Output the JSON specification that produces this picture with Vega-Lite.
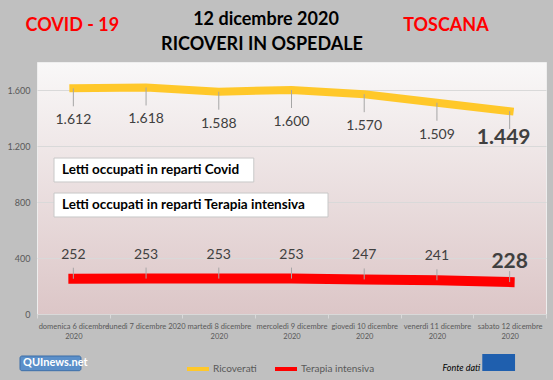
{
  "$schema": "https://vega.github.io/schema/vega-lite/v6.json",
  "width": 509,
  "height": 252,
  "autosize": {"type": "none"},
  "padding": {"left": 37, "top": 62, "right": 7, "bottom": 66},
  "background": "#c0c0c0",
  "view": {
    "fill": {"gradient": "linear", "x1": 0, "y1": 0, "x2": 0, "y2": 1, "stops": [{"offset": 0, "color": "#f9f8f8"}, {"offset": 1, "color": "#dcc6c7"}]},
    "stroke": "#eeeeee"
  },
  "config": {
    "font": "Lato",
    "locale": {"number": {"decimal": ",", "thousands": ".", "grouping": [3], "currency": ["€", ""]}},
    "axisY": {
      "tickCount": 9, "domain": false, "ticks": false, "labelPadding": 7, "labelOverlap": false,
      "labelFontSize": 9, "labelColor": "#595959", "gridColor": "#d9d9d9", "gridWidth": 1
    }
  },
  "datasets": {
    "ricoveri": [
      {"giorno": "domenica 6 dicembre 2020", "serie": "Ricoverati", "valore": 1612},
      {"giorno": "lunedì 7 dicembre 2020", "serie": "Ricoverati", "valore": 1618},
      {"giorno": "martedì 8 dicembre 2020", "serie": "Ricoverati", "valore": 1588},
      {"giorno": "mercoledì 9 dicembre 2020", "serie": "Ricoverati", "valore": 1600},
      {"giorno": "giovedì 10 dicembre 2020", "serie": "Ricoverati", "valore": 1570},
      {"giorno": "venerdì 11 dicembre 2020", "serie": "Ricoverati", "valore": 1509},
      {"giorno": "sabato 12 dicembre 2020", "serie": "Ricoverati", "valore": 1449},
      {"giorno": "domenica 6 dicembre 2020", "serie": "Terapia intensiva", "valore": 252},
      {"giorno": "lunedì 7 dicembre 2020", "serie": "Terapia intensiva", "valore": 253},
      {"giorno": "martedì 8 dicembre 2020", "serie": "Terapia intensiva", "valore": 253},
      {"giorno": "mercoledì 9 dicembre 2020", "serie": "Terapia intensiva", "valore": 253},
      {"giorno": "giovedì 10 dicembre 2020", "serie": "Terapia intensiva", "valore": 247},
      {"giorno": "venerdì 11 dicembre 2020", "serie": "Terapia intensiva", "valore": 241},
      {"giorno": "sabato 12 dicembre 2020", "serie": "Terapia intensiva", "valore": 228}
    ],
    "uno": [{"n": 1}]
  },
  "layer": [
    {
      "data": {"name": "ricoveri"},
      "encoding": {
        "y": {
          "field": "valore", "type": "quantitative",
          "scale": {"domain": [0, 1800], "nice": false},
          "axis": {
            "title": null, "values": [0, 200, 400, 600, 800, 1000, 1200, 1400, 1600, 1800],
            "format": ",d", "domain": false, "ticks": false, "labelPadding": 7, "labelOverlap": false,
            "labelFontSize": 9, "labelColor": "#595959", "gridColor": "#d9d9d9", "gridWidth": 1
          }
        },
        "x": {
          "field": "giorno", "type": "nominal",
          "scale": {"type": "band", "paddingInner": 0, "paddingOuter": 0,
            "domain": ["domenica 6 dicembre 2020", "lunedì 7 dicembre 2020", "martedì 8 dicembre 2020", "mercoledì 9 dicembre 2020", "giovedì 10 dicembre 2020", "venerdì 11 dicembre 2020", "sabato 12 dicembre 2020"]},
          "bandPosition": 0.5,
          "axis": {
            "title": null, "labelAngle": 0, "labelFontSize": 7.5, "labelColor": "#595959",
            "tickBand": "extent", "tickColor": "#d9d9d9", "tickSize": 4, "domainColor": "#d9d9d9",
            "labelPadding": 4, "labelLineHeight": 10,
            "labelExpr": "isString(datum.value) && length(datum.value) > 22 ? [replace(datum.value, ' 2020', ''), '2020'] : datum.value"
          }
        },
        "color": {
          "field": "serie", "type": "nominal",
          "scale": {"domain": ["Ricoverati", "Terapia intensiva"], "range": ["#ffc82a", "#ff0000"]},
          "legend": {
            "title": null, "orient": "none", "direction": "horizontal",
            "legendX": 148, "legendY": 294,
            "symbolType": "stroke", "symbolStrokeWidth": 4, "symbolSize": 484,
            "labelFontSize": 10, "labelColor": "#595959", "columnPadding": 10, "labelOffset": 2
          }
        }
      },
      "layer": [
        {
          "transform": [{"filter": "datum.serie == 'Ricoverati'"}],
          "mark": {"type": "line", "strokeWidth": 8, "strokeCap": "square"}
        },
        {
          "transform": [{"filter": "datum.serie == 'Terapia intensiva'"}],
          "mark": {"type": "line", "strokeWidth": 10, "strokeCap": "square"}
        },
        {
          "transform": [{"filter": "datum.serie == 'Ricoverati'"}],
          "mark": {"type": "rule", "strokeWidth": 1, "y2Offset": 18},
          "encoding": {"y2": {"field": "valore"}, "color": {"value": "#a6a6a6"}}
        },
        {
          "transform": [{"filter": "datum.serie == 'Terapia intensiva'"}],
          "mark": {"type": "rule", "strokeWidth": 1, "y2Offset": -11},
          "encoding": {"y2": {"field": "valore"}, "color": {"value": "#a6a6a6"}}
        },
        {
          "transform": [{"filter": "datum.serie == 'Ricoverati' && datum.giorno != 'sabato 12 dicembre 2020'"}],
          "mark": {"type": "text", "dy": 32, "fontSize": 14, "baseline": "middle"},
          "encoding": {"text": {"field": "valore", "type": "quantitative", "format": ",d"}, "color": {"value": "#404040"}}
        },
        {
          "transform": [{"filter": "datum.serie == 'Ricoverati' && datum.giorno == 'sabato 12 dicembre 2020'"}],
          "mark": {"type": "text", "dy": 27, "dx": -6, "fontSize": 21, "fontWeight": "bold", "baseline": "middle"},
          "encoding": {"text": {"field": "valore", "type": "quantitative", "format": ",d"}, "color": {"value": "#404040"}}
        },
        {
          "transform": [{"filter": "datum.serie == 'Terapia intensiva' && datum.giorno != 'sabato 12 dicembre 2020'"}],
          "mark": {"type": "text", "dy": -24, "fontSize": 14, "baseline": "middle"},
          "encoding": {"text": {"field": "valore", "type": "quantitative", "format": ",d"}, "color": {"value": "#404040"}}
        },
        {
          "transform": [{"filter": "datum.serie == 'Terapia intensiva' && datum.giorno == 'sabato 12 dicembre 2020'"}],
          "mark": {"type": "text", "dy": -20, "fontSize": 21, "fontWeight": "bold", "baseline": "middle"},
          "encoding": {"text": {"field": "valore", "type": "quantitative", "format": ",d"}, "color": {"value": "#404040"}}
        }
      ]
    },
    {
      "data": {"name": "uno"},
      "mark": {"type": "rect", "fill": "#ffffff", "stroke": "#c8c8c8", "strokeWidth": 1, "xOffset": 17, "x2Offset": 35},
      "encoding": {
        "x": {"datum": "domenica 6 dicembre 2020", "type": "nominal", "bandPosition": 0},
        "x2": {"datum": "martedì 8 dicembre 2020"},
        "y": {"datum": 1114, "type": "quantitative"},
        "y2": {"datum": 943}
      }
    },
    {
      "data": {"name": "uno"},
      "mark": {"type": "rect", "fill": "#ffffff", "stroke": "#c8c8c8", "strokeWidth": 1, "xOffset": 17, "x2Offset": 36.5},
      "encoding": {
        "x": {"datum": "domenica 6 dicembre 2020", "type": "nominal", "bandPosition": 0},
        "x2": {"datum": "mercoledì 9 dicembre 2020"},
        "y": {"datum": 864, "type": "quantitative"},
        "y2": {"datum": 693}
      }
    },
    {
      "data": {"name": "uno"},
      "mark": {"type": "text", "align": "left", "baseline": "middle", "fontSize": 13.5, "fontWeight": "bold", "color": "#000000", "dx": 25},
      "encoding": {
        "x": {"datum": "domenica 6 dicembre 2020", "type": "nominal", "bandPosition": 0},
        "y": {"datum": 1029, "type": "quantitative"},
        "text": {"value": "Letti occupati in reparti Covid"}
      }
    },
    {
      "data": {"name": "uno"},
      "mark": {"type": "text", "align": "left", "baseline": "middle", "fontSize": 13.5, "fontWeight": "bold", "color": "#000000", "dx": 25},
      "encoding": {
        "x": {"datum": "domenica 6 dicembre 2020", "type": "nominal", "bandPosition": 0},
        "y": {"datum": 779, "type": "quantitative"},
        "text": {"value": "Letti occupati in reparti Terapia intensiva"}
      }
    },
    {
      "data": {"name": "uno"},
      "mark": {"type": "text", "align": "center", "baseline": "middle", "fontSize": 18, "fontWeight": "bold", "color": "#ff0000", "dx": -1},
      "encoding": {
        "x": {"datum": "domenica 6 dicembre 2020", "type": "nominal", "bandPosition": 0.5},
        "y": {"datum": 2057, "type": "quantitative"},
        "text": {"value": "COVID - 19"}
      }
    },
    {
      "data": {"name": "uno"},
      "mark": {"type": "text", "align": "center", "baseline": "middle", "fontSize": 18, "fontWeight": "bold", "color": "#ff0000", "dx": 9},
      "encoding": {
        "x": {"datum": "venerdì 11 dicembre 2020", "type": "nominal", "bandPosition": 0.5},
        "y": {"datum": 2057, "type": "quantitative"},
        "text": {"value": "TOSCANA"}
      }
    },
    {
      "data": {"name": "uno"},
      "mark": {"type": "text", "align": "center", "baseline": "middle", "fontSize": 18, "fontWeight": "bold", "color": "#000000", "dx": -25.5},
      "encoding": {
        "x": {"datum": "mercoledì 9 dicembre 2020", "type": "nominal", "bandPosition": 0.5},
        "y": {"datum": 2100, "type": "quantitative"},
        "text": {"value": "12 dicembre 2020"}
      }
    },
    {
      "data": {"name": "uno"},
      "mark": {"type": "text", "align": "center", "baseline": "middle", "fontSize": 18, "fontWeight": "bold", "color": "#000000", "dx": -29.5},
      "encoding": {
        "x": {"datum": "mercoledì 9 dicembre 2020", "type": "nominal", "bandPosition": 0.5},
        "y": {"datum": 1921, "type": "quantitative"},
        "text": {"value": "RICOVERI IN OSPEDALE"}
      }
    },
    {
      "data": {"name": "uno"},
      "mark": {"type": "rect", "fill": "#5b8fc9", "stroke": "#3d6fa8", "cornerRadius": 2, "xOffset": -17, "x2Offset": 7.6},
      "encoding": {
        "x": {"datum": "domenica 6 dicembre 2020", "type": "nominal", "bandPosition": 0},
        "x2": {"datum": "domenica 6 dicembre 2020"},
        "y": {"datum": -300, "type": "quantitative"},
        "y2": {"datum": -405}
      }
    },
    {
      "data": {"name": "uno"},
      "mark": {"type": "text", "align": "left", "baseline": "middle", "fontSize": 11, "fontWeight": "bold", "color": "#ffffff", "dx": -14},
      "encoding": {
        "x": {"datum": "domenica 6 dicembre 2020", "type": "nominal", "bandPosition": 0},
        "y": {"datum": -352, "type": "quantitative"},
        "text": {"value": "QUInews.net"}
      }
    },
    {
      "data": {"name": "uno"},
      "mark": {"type": "text", "align": "right", "baseline": "middle", "fontSize": 9, "fontStyle": "italic", "color": "#000000", "dx": 7},
      "encoding": {
        "x": {"datum": "sabato 12 dicembre 2020", "type": "nominal", "bandPosition": 0},
        "y": {"datum": -386, "type": "quantitative"},
        "text": {"value": "Fonte dati"}
      }
    },
    {
      "data": {"name": "uno"},
      "mark": {"type": "rect", "fill": "#1f5fae", "xOffset": 9, "x2Offset": 5.4},
      "encoding": {
        "x": {"datum": "sabato 12 dicembre 2020", "type": "nominal", "bandPosition": 0},
        "x2": {"datum": "sabato 12 dicembre 2020"},
        "y": {"datum": -286, "type": "quantitative"},
        "y2": {"datum": -407}
      }
    }
  ]
}
